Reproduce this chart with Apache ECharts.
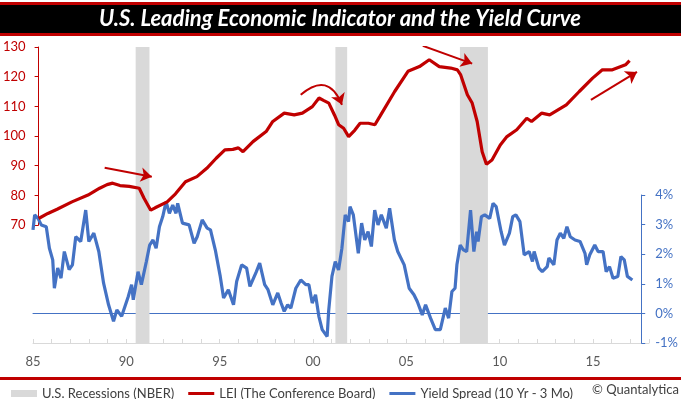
<!DOCTYPE html>
<html>
<head>
<meta charset="utf-8">
<title>U.S. Leading Economic Indicator and the Yield Curve</title>
<script src="https://cdn.jsdelivr.net/npm/echarts@6/dist/echarts.min.js"></script>
<style>
  html, body { margin: 0; padding: 0; background: #fff; }
  #chart { width: 681px; height: 399px; }
</style>
</head>
<body>
<div id="chart"></div>
<script>
// LEI (The Conference Board), [year, index]
const leiData = [
  [1985.0, 72.2], [1985.5, 73.9], [1986.0, 75.3], [1986.8, 77.8], [1987.67, 80.1],
  [1988.3, 82.4], [1988.7, 83.6], [1989.0, 84.1], [1989.4, 83.3], [1989.9, 83.0],
  [1990.44, 82.4], [1990.7, 79.0], [1991.06, 75.0], [1991.3, 75.8], [1991.95, 77.8],
  [1992.4, 80.5], [1992.94, 84.6], [1993.56, 86.3], [1994.09, 89.1], [1994.6, 92.5],
  [1995.07, 95.3], [1995.5, 95.5], [1995.8, 96.0], [1996.05, 94.7], [1996.59, 98.1],
  [1997.3, 101.5], [1997.66, 104.9], [1998.28, 107.7], [1998.82, 107.1], [1999.26, 107.7],
  [1999.8, 109.9], [2000.16, 112.8], [2000.4, 112.0], [2000.69, 111.1], [2001.0, 107.0],
  [2001.22, 103.8], [2001.49, 102.6], [2001.76, 99.8], [2002.1, 102.0], [2002.38, 104.3],
  [2002.83, 104.3], [2003.18, 103.8], [2003.45, 106.6], [2004.25, 115.0], [2004.97, 121.8],
  [2005.59, 123.4], [2006.12, 125.7], [2006.66, 123.4], [2007.28, 122.9], [2007.64, 122.3],
  [2007.82, 120.6], [2008.18, 113.9], [2008.44, 111.1], [2008.71, 104.9], [2008.98, 94.7],
  [2009.21, 90.5], [2009.51, 91.9], [2009.96, 97.0], [2010.32, 99.8], [2010.85, 102.1],
  [2011.39, 106.0], [2011.65, 104.9], [2012.19, 107.7], [2012.63, 107.1], [2013.53, 110.5],
  [2014.23, 115.0], [2014.95, 119.5], [2015.48, 122.3], [2016.02, 122.3], [2016.73, 124.0],
  [2016.95, 125.4]
];

// Yield spread 10 Yr - 3 Mo, [year, percent]
const spreadData = [
  [1985.0, 2.82], [1985.09, 3.33], [1985.27, 3.21], [1985.45, 2.99], [1985.72, 2.93],
  [1985.89, 2.20], [1986.07, 1.81], [1986.16, 0.85], [1986.34, 1.53], [1986.52, 1.19],
  [1986.7, 2.09], [1986.96, 1.48], [1987.14, 1.64], [1987.32, 2.59], [1987.59, 2.43],
  [1987.86, 3.49], [1988.03, 2.43], [1988.3, 2.71], [1988.57, 2.09], [1988.83, 1.02],
  [1989.1, 0.29], [1989.37, -0.27], [1989.55, 0.12], [1989.81, -0.10], [1990.17, 0.57],
  [1990.35, 0.97], [1990.44, 0.46], [1990.7, 1.41], [1990.88, 0.97], [1991.15, 1.75],
  [1991.33, 2.31], [1991.51, 2.48], [1991.68, 2.20], [1991.86, 2.93], [1992.04, 3.27],
  [1992.22, 3.77], [1992.4, 3.38], [1992.58, 3.66], [1992.76, 3.38], [1992.85, 3.72],
  [1993.11, 3.05], [1993.47, 2.99], [1993.74, 2.37], [1993.91, 2.59], [1994.18, 3.16],
  [1994.45, 2.88], [1994.63, 2.82], [1994.89, 2.15], [1995.16, 1.25], [1995.34, 0.52],
  [1995.6, 0.80], [1995.88, 0.29], [1996.05, 1.08], [1996.32, 1.64], [1996.59, 1.53],
  [1996.77, 0.91], [1997.12, 1.41], [1997.3, 1.70], [1997.57, 0.97], [1997.75, 0.80],
  [1998.01, 0.29], [1998.28, 0.69], [1998.46, 0.35], [1998.63, 0.07], [1998.82, 0.29],
  [1998.99, 0.18], [1999.26, 0.85], [1999.53, 1.13], [1999.8, 0.97], [1999.97, 0.97],
  [2000.15, 0.35], [2000.33, 0.63], [2000.51, -0.10], [2000.69, -0.55], [2000.96, -0.78],
  [2001.04, 0.07], [2001.22, 1.25], [2001.4, 1.75], [2001.58, 1.47], [2001.76, 2.20],
  [2001.94, 3.33], [2002.12, 3.10], [2002.2, 3.61], [2002.38, 3.33], [2002.65, 2.03],
  [2002.83, 3.05], [2003.0, 2.48], [2003.18, 2.76], [2003.36, 2.26], [2003.54, 3.49],
  [2003.72, 2.99], [2003.9, 3.33], [2004.17, 2.88], [2004.35, 3.55], [2004.61, 2.48],
  [2004.79, 2.09], [2005.14, 1.64], [2005.41, 0.85], [2005.67, 0.63], [2005.85, 0.40],
  [2006.12, -0.05], [2006.3, 0.29], [2006.57, -0.16], [2006.83, -0.55], [2007.1, -0.55],
  [2007.37, 0.18], [2007.55, -0.16], [2007.73, 0.74], [2007.9, 0.85], [2008.0, 1.64],
  [2008.18, 2.31], [2008.35, 2.15], [2008.53, 2.09], [2008.74, 3.49], [2008.92, 2.09],
  [2009.07, 2.76], [2009.15, 2.43], [2009.33, 3.27], [2009.51, 3.33], [2009.78, 3.21],
  [2009.96, 3.72], [2010.13, 3.61], [2010.4, 2.76], [2010.58, 2.31], [2010.85, 2.71],
  [2011.03, 3.27], [2011.2, 3.33], [2011.42, 3.10], [2011.65, 1.98], [2011.92, 2.09],
  [2012.1, 1.75], [2012.19, 2.09], [2012.45, 1.53], [2012.63, 1.41], [2012.9, 1.58],
  [2012.99, 1.87], [2013.26, 1.64], [2013.43, 2.48], [2013.61, 2.71], [2013.8, 2.54],
  [2013.97, 2.93], [2014.15, 2.59], [2014.41, 2.48], [2014.68, 2.43], [2014.95, 2.03],
  [2015.04, 1.64], [2015.21, 1.98], [2015.48, 2.31], [2015.66, 2.09], [2015.93, 2.09],
  [2016.1, 1.41], [2016.28, 1.58], [2016.47, 1.19], [2016.73, 1.25], [2016.9, 1.92],
  [2017.08, 1.81], [2017.25, 1.25], [2017.52, 1.13]
];

// NBER recessions, [start, end] in years
const recessions = [
  [1990.5, 1991.24],
  [2001.2, 2001.83],
  [2007.87, 2009.37]
];

// red arrow annotations on the LEI scale: from, to, curveness
const arrows = [
  [[1988.57, 89.3], [1991.12, 86.3], 0],
  [[1999.17, 113.9], [2001.4, 110.5], 0.7],
  [[2005.77, 130.4], [2008.44, 124.4], 0],
  [[2014.86, 112.2], [2017.35, 121.6], 0]
];

const leftTicks = { min: 70, max: 130, interval: 10 };
const rightTicks = { min: -1, max: 4, interval: 1 };
const yearRange = { min: 1985, max: 2018 };

const RED = '#c00000';
const BLUE = '#4472c4';
const GREY = '#d9d9d9';
const FONT = 'Lato';
// thin line icon for the legend, padded to the full item height
const LINE_ICON = 'path://M0,0L0,7M0,2L26,2L26,5L0,5Z';

const chart = echarts.init(document.getElementById('chart'), null, { renderer: 'canvas' });

chart.setOption({
  animation: false,
  textStyle: { fontFamily: FONT },
  grid: [
    { left: 33, right: 32, top: 47, bottom: 56 },   // recessions + year axis
    { left: 33, right: 32, top: 47, height: 178 },  // LEI
    { left: 33, right: 32, top: 195, bottom: 56 }   // yield spread
  ],
  xAxis: [
    {
      type: 'value',
      gridIndex: 0,
      min: yearRange.min,
      max: yearRange.max,
      interval: 1,
      axisLine: { onZero: false, lineStyle: { color: GREY, width: 1 } },
      axisTick: { inside: true, length: 4, lineStyle: { color: GREY } },
      axisLabel: {
        margin: 12,
        color: '#595959',
        fontSize: 13,
        fontFamily: FONT,
        formatter: (v) => ((v - 1985) % 5 === 0 ? String(v).slice(2) : '')
      },
      splitLine: { show: false }
    },
    {
      // LEI grid: years only, nothing drawn
      type: 'value',
      gridIndex: 1,
      min: yearRange.min,
      max: yearRange.max,
      show: false
    },
    {
      // yield grid: its axis line sits on 0% and is the blue zero line
      type: 'value',
      gridIndex: 2,
      min: yearRange.min,
      max: yearRange.max,
      show: true,
      axisLine: { show: true, onZero: true, lineStyle: { color: BLUE, width: 1 } },
      axisTick: { show: false },
      axisLabel: { show: false },
      splitLine: { show: false }
    }
  ],
  yAxis: [
    { type: 'value', gridIndex: 0, min: 0, max: 1, show: false },
    {
      type: 'value',
      gridIndex: 1,
      position: 'left',
      min: leftTicks.min,
      max: leftTicks.max,
      interval: leftTicks.interval,
      axisLine: { show: true, lineStyle: { color: RED, width: 1 } },
      axisTick: { show: true, length: 4, lineStyle: { color: RED } },
      axisLabel: { color: RED, fontSize: 13, margin: 13, fontFamily: FONT },
      splitLine: { show: false }
    },
    {
      type: 'value',
      gridIndex: 2,
      position: 'right',
      min: rightTicks.min,
      max: rightTicks.max,
      interval: rightTicks.interval,
      axisLine: { show: true, lineStyle: { color: BLUE, width: 1 } },
      axisTick: { show: true, length: 4, lineStyle: { color: BLUE } },
      axisLabel: { color: BLUE, fontSize: 13, margin: 14, fontFamily: FONT, formatter: '{value}%' },
      splitLine: { show: false }
    }
  ],
  legend: {
    left: 6,
    top: 382,
    itemWidth: 26,
    itemHeight: 7,
    itemGap: 14,
    textStyle: { color: '#404040', fontSize: 13, fontFamily: FONT },
    data: [
      { name: 'U.S. Recessions (NBER)', icon: 'rect' },
      { name: 'LEI (The Conference Board)', icon: LINE_ICON },
      { name: 'Yield Spread (10 Yr - 3 Mo)', icon: LINE_ICON }
    ]
  },
  series: [
    {
      name: 'U.S. Recessions (NBER)',
      type: 'line',
      xAxisIndex: 0,
      yAxisIndex: 0,
      data: [],
      itemStyle: { color: GREY },
      markArea: {
        silent: true,
        itemStyle: { color: GREY },
        data: recessions.map(([a, b]) => [{ xAxis: a }, { xAxis: b }])
      }
    },
    {
      name: 'Yield Spread (10 Yr - 3 Mo)',
      type: 'line',
      xAxisIndex: 2,
      yAxisIndex: 2,
      data: spreadData,
      showSymbol: false,
      symbol: 'none',
      z: 3,
      lineStyle: { color: BLUE, width: 3.2 },
      itemStyle: { color: BLUE }
    },
    {
      name: 'LEI (The Conference Board)',
      type: 'line',
      xAxisIndex: 1,
      yAxisIndex: 1,
      data: leiData,
      showSymbol: false,
      symbol: 'none',
      z: 4,
      lineStyle: { color: RED, width: 3.2 },
      itemStyle: { color: RED }
    },
    {
      // red arrow annotations
      name: 'arrows',
      type: 'lines',
      coordinateSystem: 'cartesian2d',
      xAxisIndex: 1,
      yAxisIndex: 1,
      silent: true,
      z: 5,
      symbol: ['none', 'arrow'],
      symbolSize: [9, 11],
      lineStyle: { color: RED, width: 2, opacity: 1 },
      data: arrows.map(([from, to, c]) => ({
        coords: [from, to],
        lineStyle: { curveness: c }
      }))
    }
  ],
  graphic: [
    // title band
    { type: 'rect', left: 0, top: 2, shape: { width: 681, height: 34 }, style: { fill: RED }, silent: true },
    { type: 'rect', left: 0, top: 5, shape: { width: 681, height: 28 }, style: { fill: '#000' }, silent: true },
    {
      type: 'text',
      x: 340,
      y: 19,
      silent: true,
      style: {
        text: 'U.S. Leading Economic Indicator and the Yield Curve',
        fill: '#fff',
        font: 'italic bold 22px ' + FONT,
        align: 'center',
        verticalAlign: 'middle'
      }
    },
    // footer rule and credit
    { type: 'rect', left: 0, top: 377, shape: { width: 681, height: 3 }, style: { fill: RED }, silent: true },
    {
      type: 'text',
      x: 592,
      y: 390,
      silent: true,
      style: {
        text: '© Quantalytica',
        fill: '#404040',
        font: '13px ' + FONT,
        verticalAlign: 'middle'
      }
    }
  ]
});
</script>
</body>
</html>
